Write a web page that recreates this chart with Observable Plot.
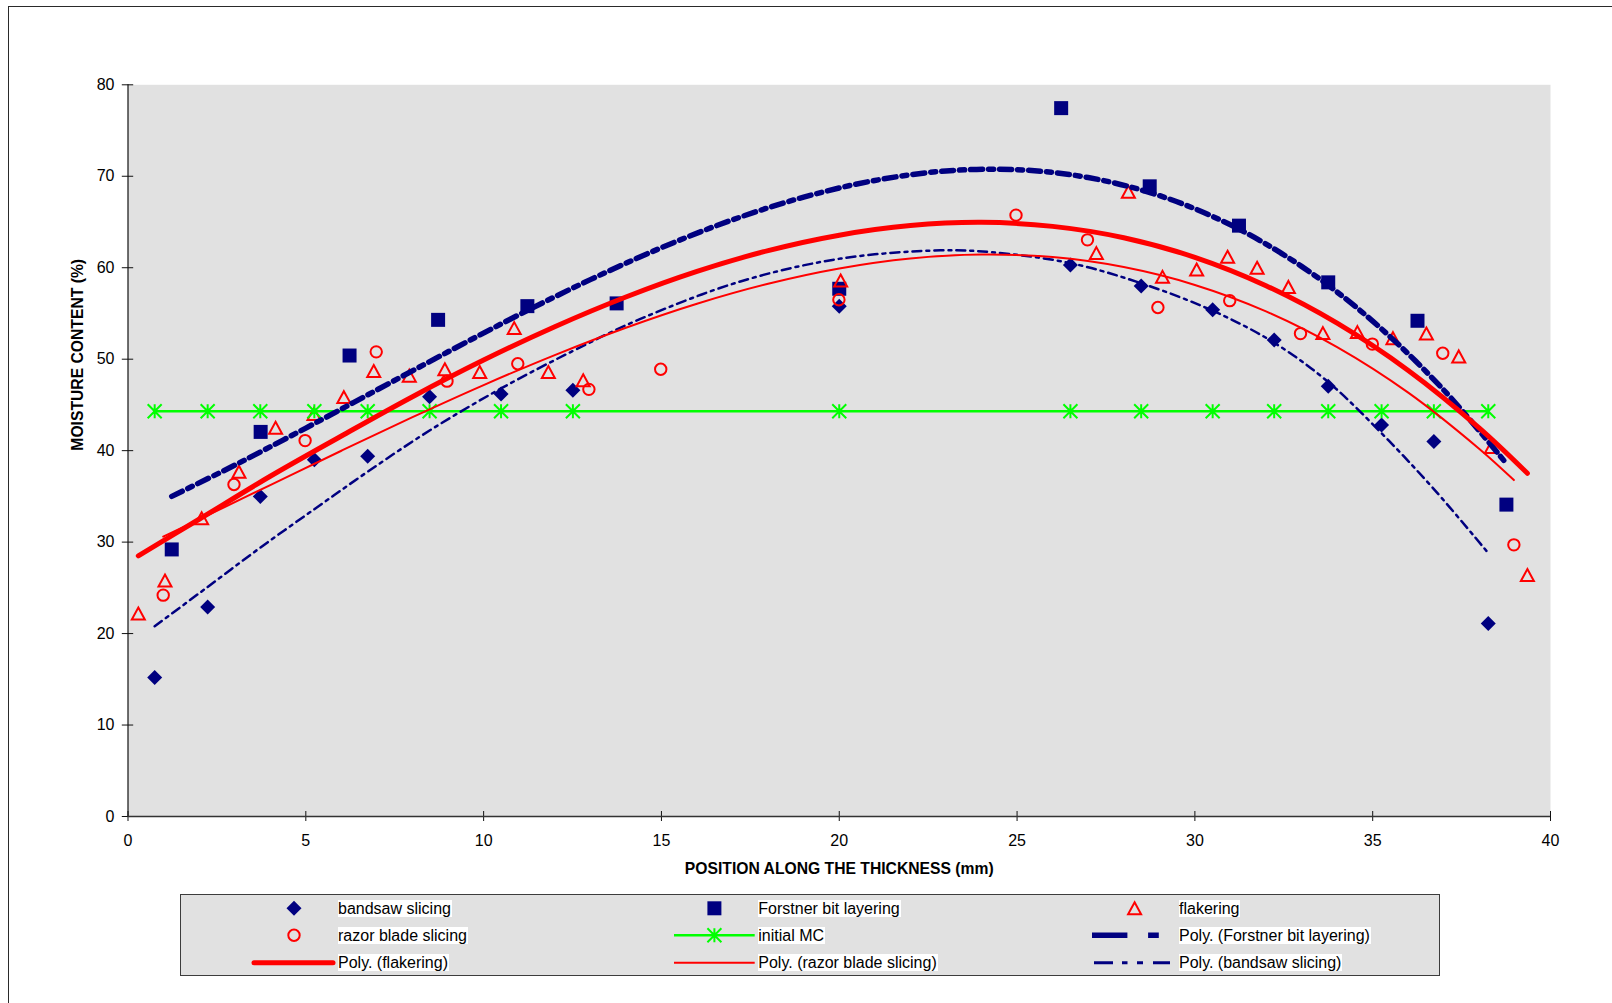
<!DOCTYPE html>
<html>
<head>
<meta charset="utf-8">
<script src="https://cdn.jsdelivr.net/npm/d3@7"></script>
<script src="https://cdn.jsdelivr.net/npm/@observablehq/plot@0.6"></script>
<style>
html,body{margin:0;padding:0;background:#fff;}
body{width:1612px;height:1003px;overflow:hidden;position:relative;font-family:"Liberation Sans",Arial,sans-serif;}
#frame{position:absolute;left:8px;top:6px;width:1700px;height:1100px;border:1px solid #2a2a2a;}
#chart{position:absolute;left:0;top:0;width:1612px;}
#legend{position:absolute;left:180px;top:894px;width:1258px;height:80px;border:1.5px solid #3c3c3c;background:#E1E1E1;}
#swatches{position:absolute;left:0;top:0;}
.lt{position:absolute;background:#fff;font-size:16px;line-height:17px;height:17px;white-space:nowrap;color:#000;padding:0 1px 0 0;}
</style>
</head>
<body>
<div id="frame"></div>
<div id="chart"></div>
<div id="legend"></div>
<svg id="swatches" width="1612" height="1003"></svg>
<script>
// ---------- DATA ----------
const xTicks = [0, 5, 10, 15, 20, 25, 30, 35, 40];
const yTicks = [0, 10, 20, 30, 40, 50, 60, 70, 80];

const bandsawX  = [0.75, 2.24, 3.72, 5.24, 6.74, 8.48, 10.49, 12.51, 20.0, 26.5, 28.49, 30.5, 32.23, 33.75, 35.25, 36.72, 38.25];
const bandsawMC = [15.2, 22.9, 35.0, 39.0, 39.4, 45.9, 46.2, 46.6, 55.8, 60.3, 58.0, 55.4, 52.1, 47.05, 42.8, 41.0, 21.1];

const forstnerX  = [1.23, 3.73, 6.23, 8.72, 11.23, 13.74, 20.0, 26.24, 28.73, 31.24, 33.75, 36.26, 38.76];
const forstnerMC = [29.2, 42.05, 50.4, 54.3, 55.8, 56.1, 57.7, 77.45, 68.9, 64.6, 58.4, 54.2, 34.1];

const flakeringX  = [0.29, 1.04, 2.07, 3.12, 4.15, 5.23, 6.07, 6.91, 7.91, 8.91, 9.89, 10.86, 11.82, 12.8, 20.04, 27.23, 28.13, 29.09, 30.05, 30.92, 31.75, 32.63, 33.6, 34.57, 35.57, 36.51, 37.42, 38.34, 39.35];
const flakeringMC = [22.2, 25.8, 32.6, 37.7, 42.5, 44.0, 45.85, 48.7, 48.2, 48.9, 48.6, 53.4, 48.6, 47.7, 58.6, 61.6, 68.3, 59.0, 59.8, 61.2, 60.0, 57.9, 52.85, 52.96, 52.3, 52.8, 50.3, 40.4, 26.4];

const razorX  = [0.99, 2.98, 4.98, 6.98, 8.97, 10.96, 12.96, 14.98, 19.99, 24.97, 26.98, 28.96, 30.98, 32.97, 34.99, 36.97, 38.97];
const razorMC = [24.2, 36.3, 41.1, 50.8, 47.6, 49.5, 46.7, 48.9, 56.5, 65.75, 63.05, 55.65, 56.4, 52.8, 51.65, 50.65, 29.7];

const initialX  = [0.75, 2.24, 3.72, 5.24, 6.74, 8.48, 10.49, 12.51, 20.0, 26.5, 28.49, 30.5, 32.23, 33.75, 35.25, 36.72, 38.25];
const initialMC = [44.3, 44.3, 44.3, 44.3, 44.3, 44.3, 44.3, 44.3, 44.3, 44.3, 44.3, 44.3, 44.3, 44.3, 44.3, 44.3, 44.3];

// trend lines
const polyFlakeringX  = [0.29, 2, 4, 6, 8, 10, 12, 14, 16, 18, 20, 22, 24, 26, 28, 30, 32, 34, 36, 38, 39.35];
const polyFlakeringMC = [28.5, 32.5, 37.2, 41.6, 45.9, 49.9, 53.55, 56.8, 59.6, 61.87, 63.56, 64.61, 64.96, 64.52, 63.28, 61.14, 58.04, 53.94, 48.77, 42.46, 37.52];

const polyRazorX  = [0.99, 2, 4, 6, 8, 10, 12, 14, 16, 18, 20, 22, 24, 26, 28, 30, 32, 34, 36, 38, 38.97];
const polyRazorMC = [30.6, 32.48, 36.24, 39.99, 43.66, 47.17, 50.45, 53.44, 56.07, 58.25, 59.92, 61.01, 61.44, 61.16, 60.07, 58.12, 55.23, 51.32, 46.34, 40.18, 36.78];

const polyForstnerX  = [1.23, 3, 5, 7, 9, 11, 13, 15, 17, 19, 21, 23, 25, 27, 29, 31, 33, 35, 37, 38.76];
const polyForstnerMC = [35.0, 38.41, 42.47, 46.64, 50.81, 54.87, 58.7, 62.19, 65.24, 67.72, 69.54, 70.58, 70.72, 69.86, 67.89, 64.69, 60.15, 54.16, 46.62, 38.58];

const polyBandsawX  = [0.75, 2.24, 3.72, 5.24, 6.74, 8.48, 10.49, 12.51, 14.41, 17.22, 20.04, 22.85, 24.26, 26.5, 28.49, 30.5, 32.23, 33.75, 35.25, 36.72, 38.25];
const polyBandsawMC = [20.8, 25.1, 29.4, 33.6, 37.7, 42.2, 46.8, 50.9, 54.4, 58.5, 61.0, 61.9, 61.7, 60.5, 58.3, 55.3, 51.8, 47.5, 41.9, 35.8, 28.8];

const legendLabels = [
  "bandsaw slicing", "Forstner bit layering", "flakering",
  "razor blade slicing", "initial MC", "Poly. (Forstner bit layering)",
  "Poly. (flakering)", "Poly. (razor blade slicing)", "Poly. (bandsaw slicing)"
];

// ---------- helpers ----------
const pts = (xs, ys) => xs.map((x, i) => ({x, y: ys[i]}));
const NAVY = "#000080", RED = "#FF0000", GREEN = "#00FF00";

// Excel-like marker shapes
const excelSquare = {draw(c, s){ const r = Math.sqrt(s/Math.PI); c.moveTo(-r,-r); c.lineTo(r,-r); c.lineTo(r,r); c.lineTo(-r,r); c.closePath(); }};
const excelDiamond = {draw(c, s){ const r = Math.sqrt(s/Math.PI); c.moveTo(0,-r); c.lineTo(r,0); c.lineTo(0,r); c.lineTo(-r,0); c.closePath(); }};
const excelTriangle = {draw(c, s){ const r = Math.sqrt(s/Math.PI); const h = 0.92*r; c.moveTo(0,-h); c.lineTo(r,h); c.lineTo(-r,h); c.closePath(); }};
const excelStar = {draw(c, s){ const r = Math.sqrt(s/Math.PI); c.moveTo(0,-r); c.lineTo(0,r); c.moveTo(-r,-r); c.lineTo(r,r); c.moveTo(r,-r); c.lineTo(-r,r); }};

const FD = "12,6,5,6";     // Forstner trend dash
const BD = "9,5,3,5";      // bandsaw trend dash-dot

const chart = Plot.plot({
  width: 1612,
  height: 890,
  marginLeft: 127.5,
  marginRight: 62,
  marginTop: 84.3,
  marginBottom: 74,
  x: {domain: [0, 40]},
  y: {domain: [0, 80]},
  style: {fontFamily: "'Liberation Sans', Arial, sans-serif", fontSize: "16px", color: "#000", background: "transparent", overflow: "visible"},
  marks: [
    Plot.frame({fill: "#E1E1E1", stroke: "none"}),
    Plot.axisY({ticks: yTicks, tickSize: 11.4, dx: 5.7, tickPadding: 7.8, label: null, stroke: "#111"}),
    Plot.axisX({ticks: xTicks, tickSize: 10, dy: -5, tickPadding: 13.6, label: null, stroke: "#111"}),
    Plot.ruleX([0], {stroke: "#111", strokeWidth: 1.2}),
    Plot.ruleY([0], {stroke: "#333", strokeWidth: 1.5}),
    Plot.text(["MOISTURE CONTENT (%)"], {text: d => d, frameAnchor: "left", dx: -50.5, rotate: -90, fontWeight: "bold", fontSize: 15.7, fill: "#000"}),
    Plot.text(["POSITION ALONG THE THICKNESS (mm)"], {text: d => d, frameAnchor: "bottom", dy: 57, fontWeight: "bold", fontSize: 15.7, fill: "#000"}),
    // data series
    Plot.dot(pts(bandsawX, bandsawMC), {x: "x", y: "y", symbol: excelDiamond, r: 7.5, fill: NAVY, stroke: "none"}),
    Plot.dot(pts(forstnerX, forstnerMC), {x: "x", y: "y", symbol: excelSquare, r: 7, fill: NAVY, stroke: "none"}),
    Plot.dot(pts(flakeringX, flakeringMC), {x: "x", y: "y", symbol: excelTriangle, r: 6.5, fill: "none", stroke: RED, strokeWidth: 2}),
    Plot.dot(pts(razorX, razorMC), {x: "x", y: "y", r: 5.7, fill: "none", stroke: RED, strokeWidth: 2}),
    Plot.line(pts(initialX, initialMC), {x: "x", y: "y", stroke: GREEN, strokeWidth: 2.5}),
    Plot.dot(pts(initialX, initialMC), {x: "x", y: "y", symbol: excelStar, r: 7, fill: "none", stroke: GREEN, strokeWidth: 2}),
    // trend lines
    Plot.line(pts(polyForstnerX, polyForstnerMC), {x: "x", y: "y", curve: "catmull-rom", stroke: NAVY, strokeWidth: 5.5, strokeDasharray: FD}),
    Plot.line(pts(polyBandsawX, polyBandsawMC), {x: "x", y: "y", curve: "catmull-rom", stroke: NAVY, strokeWidth: 2.5, strokeDasharray: BD}),
    Plot.line(pts(polyRazorX, polyRazorMC), {x: "x", y: "y", curve: "catmull-rom", stroke: RED, strokeWidth: 2}),
    Plot.line(pts(polyFlakeringX, polyFlakeringMC), {x: "x", y: "y", curve: "catmull-rom", stroke: RED, strokeWidth: 5, strokeLinecap: "round"})
  ]
});
document.getElementById("chart").appendChild(chart);

// ---------- legend ----------
const rowY = [908.3, 935.3, 962.8];
const colSym = [294, 714.4, 1134.6];
const colText = [338, 758.3, 1179];
const sw = d3.select("#swatches");
const sym = (type, r, cx, cy) => sw.append("path").attr("transform", `translate(${cx},${cy})`).attr("d", d3.symbol(type, Math.PI*r*r)());
const seg = (x1, x2, y) => sw.append("line").attr("x1", x1).attr("x2", x2).attr("y1", y).attr("y2", y);

sym(excelDiamond, 7.5, colSym[0], rowY[0]).attr("fill", NAVY);
sym(excelSquare, 7, colSym[1], rowY[0]).attr("fill", NAVY);
sym(excelTriangle, 6.5, colSym[2], rowY[0]).attr("fill", "none").attr("stroke", RED).attr("stroke-width", 2);
sw.append("circle").attr("cx", colSym[0]).attr("cy", rowY[1]).attr("r", 5.7).attr("fill", "none").attr("stroke", RED).attr("stroke-width", 2);
seg(674, 754.7, rowY[1]).attr("stroke", GREEN).attr("stroke-width", 2.5);
sym(excelStar, 7, colSym[1], rowY[1]).attr("fill", "none").attr("stroke", GREEN).attr("stroke-width", 2);
seg(1092, 1172, rowY[1]).attr("stroke", NAVY).attr("stroke-width", 5.5).attr("stroke-dasharray", "35.4,20.7,10.7,30");
seg(254, 333, rowY[2]).attr("stroke", RED).attr("stroke-width", 5).attr("stroke-linecap", "round");
seg(674, 754.7, rowY[2]).attr("stroke", RED).attr("stroke-width", 2);
seg(1094, 1170, rowY[2]).attr("stroke", NAVY).attr("stroke-width", 3).attr("stroke-dasharray", "19,9,5.5,9.5,6,10");

legendLabels.forEach((t, i) => {
  const row = Math.floor(i / 3), col = i % 3;
  const d = document.createElement("div");
  d.className = "lt";
  d.textContent = t;
  d.style.left = colText[col] + "px";
  d.style.top = (rowY[row] - 8.7) + "px";
  document.body.appendChild(d);
});
</script>
</body>
</html>
